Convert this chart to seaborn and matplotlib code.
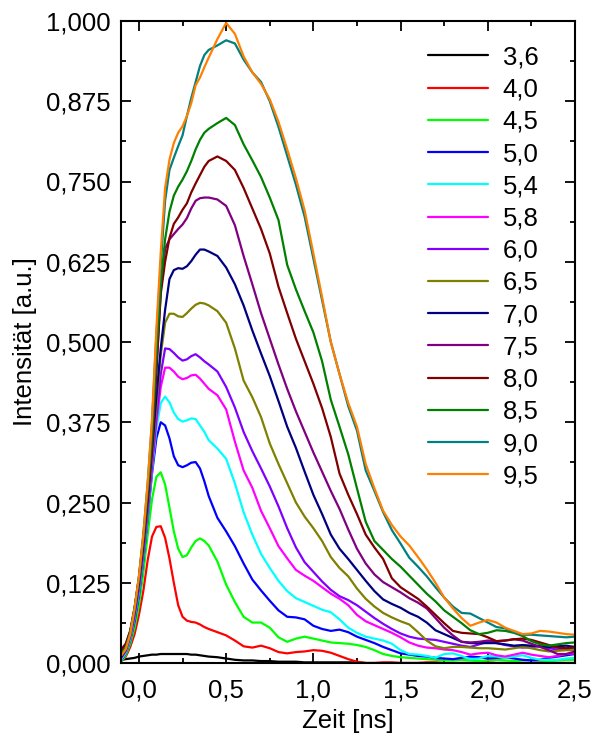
import matplotlib
matplotlib.use("Agg")
import matplotlib.pyplot as plt
from matplotlib.ticker import MultipleLocator
import pandas as pd
import seaborn as sns

# Zeitachse in ns (feiner im Anstieg, gröber im Abklingen)
time_ns = [-0.1, -0.075, -0.05, -0.025, 0.0, 0.025, 0.05, 0.075, 0.1, 0.125,
           0.15, 0.175, 0.2, 0.225, 0.25, 0.275, 0.3, 0.325, 0.35, 0.375, 0.4,
           0.45, 0.5, 0.55, 0.6, 0.65, 0.7, 0.75, 0.8, 0.85, 0.9, 0.95, 1.0,
           1.05, 1.1, 1.15, 1.2, 1.25, 1.3, 1.35, 1.4, 1.45, 1.5, 1.55, 1.6,
           1.65, 1.7, 1.75, 1.8, 1.85, 1.9, 1.95, 2.0, 2.05, 2.1, 2.15, 2.2,
           2.25, 2.3, 2.35, 2.4, 2.45, 2.5]

# Normierte Intensitäten je Spannung
i_3_6 = [0.005, 0.006, 0.007, 0.008, 0.010, 0.011, 0.012, 0.013, 0.013, 0.014,
         0.014, 0.014, 0.014, 0.014, 0.014, 0.014, 0.013, 0.013, 0.012, 0.011, 0.010,
         0.009, 0.007, 0.005, 0.004, 0.004, 0.003, 0.003, 0.002, 0.002, 0.002, 0.001, 0.001,
         0.001, 0.001, 0.001, 0.001, 0.001, 0.0, 0.0, 0.0, 0.0, 0.0, 0.0, 0.0,
         0.0, 0.0, 0.0, 0.0, 0.0, 0.0, 0.0, 0.0, 0.0, 0.0, 0.0, 0.0,
         0.0, 0.0, 0.0, 0.0, 0.0, 0.0]
i_4_0 = [0.003, 0.010, 0.025, 0.045, 0.075, 0.112, 0.160, 0.197, 0.212, 0.213,
         0.195, 0.163, 0.125, 0.090, 0.072, 0.066, 0.064, 0.063, 0.060, 0.056, 0.053,
         0.048, 0.043, 0.035, 0.026, 0.024, 0.027, 0.023, 0.017, 0.015, 0.017, 0.018, 0.020,
         0.019, 0.016, 0.011, 0.006, 0.002, 0.0, 0.0, 0.001, 0.001, 0.0, 0.0, 0.0,
         0.001, 0.001, 0.0, 0.0, 0.0, 0.0, 0.001, 0.001, 0.0, 0.0, 0.0, 0.0,
         0.0, 0.001, 0.001, 0.0, 0.0, 0.0]
i_4_5 = [0.003, 0.012, 0.030, 0.055, 0.090, 0.140, 0.200, 0.255, 0.290, 0.297,
         0.278, 0.242, 0.205, 0.178, 0.165, 0.168, 0.180, 0.190, 0.194, 0.190, 0.183,
         0.158, 0.122, 0.095, 0.072, 0.063, 0.063, 0.055, 0.040, 0.033, 0.038, 0.041, 0.038,
         0.035, 0.032, 0.031, 0.030, 0.028, 0.025, 0.020, 0.014, 0.011, 0.009, 0.008, 0.007,
         0.006, 0.005, 0.004, 0.004, 0.005, 0.004, 0.003, 0.004, 0.005, 0.004, 0.003, 0.004,
         0.005, 0.004, 0.003, 0.004, 0.005, 0.005]
i_5_0 = [0.005, 0.015, 0.035, 0.065, 0.105, 0.160, 0.225, 0.295, 0.350, 0.375,
         0.370, 0.350, 0.322, 0.308, 0.305, 0.308, 0.312, 0.313, 0.303, 0.283, 0.260,
         0.226, 0.205, 0.182, 0.155, 0.130, 0.113, 0.097, 0.082, 0.072, 0.071, 0.068, 0.058,
         0.053, 0.050, 0.052, 0.048, 0.041, 0.036, 0.031, 0.025, 0.020, 0.015, 0.013, 0.011,
         0.010, 0.008, 0.007, 0.006, 0.008, 0.010, 0.009, 0.007, 0.008, 0.009, 0.007, 0.005,
         0.004, 0.005, 0.008, 0.010, 0.012, 0.014]
i_5_4 = [0.006, 0.016, 0.037, 0.070, 0.110, 0.165, 0.230, 0.300, 0.365, 0.405,
         0.415, 0.406, 0.390, 0.380, 0.376, 0.378, 0.381, 0.380, 0.370, 0.360, 0.347,
         0.334, 0.318, 0.280, 0.235, 0.200, 0.170, 0.148, 0.128, 0.112, 0.101, 0.095, 0.089,
         0.083, 0.079, 0.068, 0.055, 0.047, 0.041, 0.038, 0.035, 0.030, 0.020, 0.014, 0.013,
         0.011, 0.008, 0.014, 0.015, 0.011, 0.006, 0.007, 0.011, 0.010, 0.008, 0.010, 0.012,
         0.008, 0.005, 0.005, 0.005, 0.007, 0.008]
i_5_8 = [0.008, 0.018, 0.040, 0.072, 0.115, 0.170, 0.235, 0.305, 0.375, 0.430,
         0.460, 0.460, 0.454, 0.446, 0.442, 0.444, 0.448, 0.449, 0.443, 0.435, 0.427,
         0.417, 0.395, 0.345, 0.300, 0.273, 0.237, 0.210, 0.182, 0.163, 0.145, 0.136, 0.128,
         0.118, 0.108, 0.100, 0.090, 0.075, 0.065, 0.059, 0.053, 0.047, 0.040, 0.032, 0.027,
         0.024, 0.023, 0.021, 0.020, 0.017, 0.013, 0.015, 0.016, 0.012, 0.010, 0.013, 0.016,
         0.013, 0.011, 0.009, 0.011, 0.014, 0.015]
i_6_0 = [0.010, 0.020, 0.042, 0.075, 0.118, 0.172, 0.238, 0.310, 0.385, 0.450,
         0.490, 0.489, 0.483, 0.476, 0.471, 0.473, 0.478, 0.481, 0.476, 0.470, 0.465,
         0.454, 0.430, 0.398, 0.360, 0.330, 0.303, 0.275, 0.244, 0.210, 0.180, 0.157, 0.142,
         0.127, 0.114, 0.104, 0.098, 0.090, 0.080, 0.070, 0.061, 0.053, 0.046, 0.041, 0.038,
         0.037, 0.036, 0.033, 0.030, 0.027, 0.025, 0.029, 0.033, 0.031, 0.028, 0.026, 0.024,
         0.025, 0.026, 0.023, 0.021, 0.023, 0.025]
i_6_5 = [0.010, 0.020, 0.043, 0.078, 0.122, 0.178, 0.245, 0.320, 0.400, 0.480,
         0.530, 0.544, 0.544, 0.540, 0.539, 0.545, 0.552, 0.558, 0.561, 0.560, 0.557,
         0.548, 0.530, 0.490, 0.440, 0.414, 0.383, 0.342, 0.310, 0.280, 0.250, 0.228, 0.210,
         0.190, 0.165, 0.148, 0.135, 0.116, 0.100, 0.088, 0.078, 0.071, 0.065, 0.060, 0.048,
         0.035, 0.026, 0.023, 0.025, 0.025, 0.024, 0.023, 0.023, 0.022, 0.021, 0.023, 0.025,
         0.023, 0.020, 0.018, 0.019, 0.020, 0.020]
i_7_0 = [0.010, 0.021, 0.045, 0.080, 0.125, 0.183, 0.252, 0.330, 0.415, 0.490,
         0.550, 0.598, 0.612, 0.615, 0.614, 0.618, 0.626, 0.636, 0.644, 0.644, 0.641,
         0.634, 0.616, 0.590, 0.557, 0.518, 0.482, 0.447, 0.408, 0.368, 0.335, 0.298, 0.262,
         0.232, 0.200, 0.178, 0.162, 0.145, 0.128, 0.112, 0.099, 0.092, 0.086, 0.078, 0.072,
         0.063, 0.051, 0.045, 0.039, 0.033, 0.031, 0.031, 0.031, 0.031, 0.029, 0.027, 0.028,
         0.027, 0.026, 0.025, 0.026, 0.027, 0.025]
i_7_5 = [0.022, 0.030, 0.050, 0.085, 0.130, 0.190, 0.260, 0.340, 0.450, 0.580,
         0.645, 0.660, 0.668, 0.676, 0.683, 0.693, 0.708, 0.720, 0.724, 0.725, 0.725,
         0.722, 0.712, 0.682, 0.634, 0.590, 0.545, 0.505, 0.465, 0.427, 0.392, 0.360, 0.328,
         0.298, 0.268, 0.240, 0.208, 0.178, 0.155, 0.138, 0.126, 0.118, 0.110, 0.101, 0.094,
         0.085, 0.070, 0.055, 0.043, 0.033, 0.032, 0.033, 0.035, 0.034, 0.035, 0.037, 0.035,
         0.030, 0.025, 0.020, 0.014, 0.014, 0.018]
i_8_0 = [0.020, 0.030, 0.050, 0.086, 0.132, 0.192, 0.263, 0.345, 0.460, 0.575,
         0.625, 0.662, 0.684, 0.694, 0.706, 0.716, 0.733, 0.747, 0.760, 0.773, 0.782,
         0.789, 0.782, 0.768, 0.740, 0.708, 0.676, 0.638, 0.586, 0.545, 0.505, 0.470, 0.435,
         0.397, 0.352, 0.295, 0.262, 0.232, 0.200, 0.180, 0.162, 0.132, 0.118, 0.109, 0.100,
         0.088, 0.075, 0.062, 0.050, 0.047, 0.046, 0.045, 0.040, 0.034, 0.035, 0.037, 0.038,
         0.036, 0.032, 0.028, 0.024, 0.023, 0.024]
i_8_5 = [0.015, 0.025, 0.048, 0.085, 0.133, 0.195, 0.268, 0.355, 0.480, 0.590,
         0.660, 0.703, 0.728, 0.742, 0.753, 0.766, 0.782, 0.800, 0.815, 0.826, 0.832,
         0.841, 0.849, 0.838, 0.808, 0.783, 0.757, 0.725, 0.690, 0.620, 0.582, 0.548, 0.515,
         0.470, 0.410, 0.368, 0.325, 0.272, 0.220, 0.190, 0.176, 0.162, 0.150, 0.136, 0.122,
         0.108, 0.096, 0.082, 0.072, 0.062, 0.051, 0.045, 0.047, 0.051, 0.050, 0.047, 0.042,
         0.034, 0.029, 0.027, 0.029, 0.031, 0.032]
i_9_0 = [0.012, 0.022, 0.045, 0.085, 0.135, 0.200, 0.280, 0.375, 0.510, 0.620,
         0.720, 0.768, 0.787, 0.805, 0.822, 0.852, 0.880, 0.905, 0.930, 0.947, 0.955,
         0.962, 0.970, 0.965, 0.940, 0.920, 0.905, 0.875, 0.835, 0.790, 0.745, 0.695, 0.630,
         0.565, 0.500, 0.450, 0.400, 0.362, 0.300, 0.268, 0.235, 0.207, 0.186, 0.164, 0.150,
         0.135, 0.118, 0.102, 0.088, 0.078, 0.077, 0.070, 0.063, 0.056, 0.054, 0.048, 0.044,
         0.044, 0.043, 0.042, 0.041, 0.040, 0.041]
i_9_5 = [0.012, 0.022, 0.045, 0.085, 0.135, 0.200, 0.280, 0.380, 0.520, 0.640,
         0.740, 0.784, 0.810, 0.826, 0.836, 0.852, 0.872, 0.900, 0.912, 0.928, 0.943,
         0.972, 0.997, 0.980, 0.945, 0.920, 0.902, 0.878, 0.843, 0.800, 0.755, 0.705, 0.638,
         0.570, 0.500, 0.450, 0.405, 0.368, 0.310, 0.272, 0.237, 0.215, 0.197, 0.183, 0.165,
         0.146, 0.125, 0.102, 0.085, 0.070, 0.058, 0.063, 0.067, 0.063, 0.055, 0.050, 0.045,
         0.046, 0.050, 0.049, 0.047, 0.045, 0.044]

series_labels = ["3,6", "4,0", "4,5", "5,0", "5,4", "5,8", "6,0",
                 "6,5", "7,0", "7,5", "8,0", "8,5", "9,0", "9,5"]
series_values = [i_3_6, i_4_0, i_4_5, i_5_0, i_5_4, i_5_8, i_6_0,
                 i_6_5, i_7_0, i_7_5, i_8_0, i_8_5, i_9_0, i_9_5]
series_colors = ["#000000", "#FF0000", "#00FF00", "#0000FF", "#00FFFF",
                 "#FF00FF", "#8000FF", "#808000", "#000080", "#800080",
                 "#800000", "#008000", "#008080", "#FF8000"]

x_ticks = [0.0, 0.5, 1.0, 1.5, 2.0, 2.5]
x_tick_labels = ["0,0", "0,5", "1,0", "1,5", "2,0", "2,5"]
y_ticks = [0.0, 0.125, 0.25, 0.375, 0.5, 0.625, 0.75, 0.875, 1.0]
y_tick_labels = ["0,000", "0,125", "0,250", "0,375", "0,500",
                 "0,625", "0,750", "0,875", "1,000"]

rows = []
for label, values in zip(series_labels, series_values):
    for t, v in zip(time_ns, values):
        rows.append({"Zeit": t, "Intensität": v, "Spannung": label})
df = pd.DataFrame(rows)

sns.set_style("ticks")
plt.rcParams["font.family"] = ["Liberation Sans", "DejaVu Sans"]
plt.rcParams["axes.linewidth"] = 1.5
for key in ("text.color", "axes.labelcolor", "xtick.color", "ytick.color",
            "axes.edgecolor"):
    plt.rcParams[key] = "black"

fig = plt.figure(figsize=(5.93, 7.37), dpi=100)
ax = fig.add_axes([121.5 / 593, 74 / 737, 453.5 / 593, 642 / 737])

sns.lineplot(data=df, x="Zeit", y="Intensität", hue="Spannung",
             hue_order=series_labels,
             palette=dict(zip(series_labels, series_colors)),
             estimator=None, sort=False, linewidth=1.6, ax=ax)

ax.set_xlim(-0.1, 2.5)
ax.set_ylim(0.0, 1.0)
ax.set_xticks(x_ticks)
ax.set_xticklabels(x_tick_labels)
ax.set_yticks(y_ticks)
ax.set_yticklabels(y_tick_labels)
ax.xaxis.set_minor_locator(MultipleLocator(0.25))
ax.yaxis.set_minor_locator(MultipleLocator(0.0625))
ax.tick_params(which="both", direction="in", top=True, right=True,
               width=1.3, colors="black", labelcolor="black", labelsize=18.5)
ax.tick_params(which="major", length=7)
ax.tick_params(which="minor", length=3.5)
ax.tick_params(axis="x", which="major", pad=11)
ax.tick_params(axis="y", which="major", pad=8)

ax.set_xlabel("Zeit [ns]", fontsize=18.5, labelpad=5, color="black")
ax.set_ylabel("Intensität [a.u.]", fontsize=18.5, labelpad=6, color="black")
for side in ax.spines.values():
    side.set_visible(True)
    side.set_linewidth(1.5)
    side.set_color("black")

sns.move_legend(ax, "upper left", bbox_to_anchor=(0.676, 0.962),
                title=None, frameon=False, fontsize=18.5,
                handlelength=2.33, handletextpad=0.58, labelspacing=0.32,
                borderpad=0, borderaxespad=0)
legend = ax.get_legend()
for line in legend.get_lines():
    line.set_linewidth(1.6)
for text in legend.get_texts():
    text.set_color("black")

fig.savefig("out.png", dpi=100)
